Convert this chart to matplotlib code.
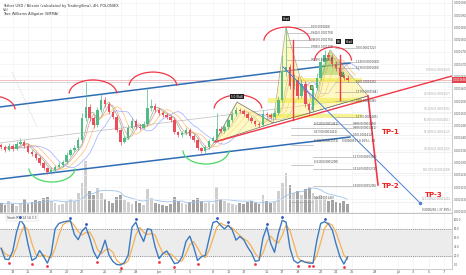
import matplotlib
matplotlib.use("Agg")
import matplotlib.pyplot as plt
from matplotlib.patches import Arc, Polygon
from matplotlib.ticker import FuncFormatter
import numpy as np
import pandas as pd

# Tether USD / Bitcoin, 12h bars, price in units of 1e-7 BTC
first_day = -0.5      # day 0 = May 12
bar_days = 0.5
first_open = 1370
closes = [1363, 1351, 1368, 1355, 1376, 1384, 1368, 1343, 1335, 1319,
          1298, 1278, 1262, 1270, 1282, 1290, 1302, 1331, 1351, 1359,
          1392, 1481, 1526, 1481, 1453, 1514, 1554, 1538, 1506, 1485,
          1433, 1384, 1400, 1441, 1469, 1445, 1441, 1457, 1522, 1530,
          1514, 1502, 1494, 1485, 1473, 1424, 1412, 1420, 1433, 1408,
          1392, 1359, 1347, 1363, 1388, 1400, 1437, 1429, 1445, 1473,
          1498, 1514, 1510, 1498, 1481, 1469, 1457, 1453, 1498, 1494,
          1485, 1502, 1554, 1668, 1689, 1611, 1636, 1571, 1620, 1538,
          1514, 1603, 1644, 1709, 1737, 1729, 1701, 1685, 1652, 1644,
          1636]
highs = [1378, 1370, 1380, 1374, 1388, 1398, 1392, 1375, 1352, 1342,
         1326, 1305, 1284, 1281, 1292, 1301, 1312, 1342, 1360, 1372,
         1405, 1500, 1628, 1540, 1490, 1525, 1579, 1566, 1545, 1515,
         1492, 1440, 1410, 1452, 1480, 1478, 1456, 1470, 1603, 1560,
         1542, 1522, 1510, 1503, 1492, 1480, 1430, 1428, 1446, 1440,
         1415, 1398, 1365, 1370, 1396, 1410, 1502, 1448, 1455, 1482,
         1510, 1528, 1522, 1518, 1505, 1488, 1475, 1466, 1512, 1507,
         1502, 1515, 1570, 1737, 1851, 1700, 1660, 1650, 1640, 1630,
         1548, 1615, 1665, 1730, 1758, 1750, 1740, 1712, 1695, 1662,
         1655]
lows = [1355, 1343, 1346, 1348, 1350, 1370, 1360, 1338, 1328, 1312,
        1290, 1270, 1252, 1254, 1262, 1276, 1284, 1296, 1325, 1345,
        1352, 1385, 1470, 1470, 1440, 1446, 1505, 1528, 1498, 1476,
        1425, 1372, 1378, 1395, 1435, 1438, 1432, 1436, 1450, 1510,
        1505, 1495, 1486, 1478, 1465, 1415, 1402, 1405, 1414, 1400,
        1384, 1350, 1338, 1340, 1356, 1382, 1392, 1420, 1422, 1438,
        1465, 1490, 1500, 1490, 1472, 1460, 1450, 1445, 1447, 1486,
        1476, 1478, 1495, 1545, 1650, 1598, 1600, 1560, 1562, 1525,
        1498, 1505, 1596, 1635, 1700, 1718, 1690, 1672, 1640, 1635,
        1628]
volumes = [10, 8, 12, 9, 7, 10, 14, 9, 11, 13,
           12, 15, 16, 12, 10, 8, 9, 11, 14, 12,
           20, 30, 52, 22, 18, 25, 20, 14, 12, 10,
           16, 18, 13, 11, 9, 12, 10, 8, 24, 15,
           10, 9, 8, 7, 9, 16, 12, 10, 9, 11,
           13, 15, 12, 10, 11, 9, 26, 14, 12, 10,
           9, 8, 10, 9, 11, 12, 10, 9, 18, 12,
           10, 11, 22, 30, 40, 28, 20, 22, 18, 24,
           26, 20, 16, 18, 14, 12, 13, 11, 10, 12,
           9]
stoch_k = [37, 13, 12, 30, 73, 100, 88, 45, 10, 15,
           32, 19, 4, 25, 80, 92, 95, 97, 98, 68,
           56, 75, 84, 60, 30, 14, 30, 55, 22, 8,
           1, 0, 5, 22, 84, 95, 70, 52, 80, 78,
           40, 14, 25, 31, 18, 3, 5, 18, 52, 64,
           40, 10, 18, 21, 58, 94, 97, 88, 80, 88,
           78, 55, 63, 56, 40, 27, 8, 10, 60, 84,
           48, 28, 70, 99, 95, 38, 10, 4, 10, 6,
           4, 4, 55, 92, 96, 91, 78, 46, 18, 2,
           18]

tick_days = [1, 3, 6, 8, 10, 13, 15, 17, 20, 22, 24, 27, 29, 31, 34, 36, 38,
             41, 43, 45, 48, 51, 53, 55, 57]
tick_labels = ["13", "15", "18", "20", "22", "25", "27", "29", "Jun", "3", "5",
               "8", "10", "12", "15", "17", "19", "22", "24", "26", "29", "Jul",
               "3", "5", "7"]
price_ticks = list(range(1100, 1951, 50))
stoch_ticks = [0, 20, 40, 60, 80, 100]

# drawings (day, price)
channel_upper = [(-0.65, 1526), (44.8, 1705)]
channel_lower = [(-0.65, 1233), (44.8, 1404)]
channel_mid = [(-0.65, 1380), (44.8, 1555)]
support_line = [(27.27, 1384), (58.05, 1652)]
dotted_line = [(0.91, 1668), (4.16, 1445)]
small_pattern = [(27.27, 1384), (30.13, 1546), (34.81, 1461)]
pt_x, pt_a, pt_b, pt_c, pt_d = (34.81, 1461), (36.49, 1851), (39.61, 1502), (42.21, 1758), (47.14, 1571)
green_zone = [(40.65, 1656), (42.21, 1758), (44.16, 1656)]
red_legs = [(37.4, 1798, 1473), (43.5, 1737, 1554)]
yellow_bands = [(34.2, 46.4, 1542, 1563), (34.2, 46.4, 1481, 1497), (37.0, 46.4, 1628, 1644)]
tp_path = [(47.14, 1571), (48.44, 1209)]
tp3_path = [(36.1, 1689), (53.9, 1136)]
tp_labels = [("TP-1", 48.96, 1424), ("TP-2", 48.96, 1205), ("TP-3", 54.55, 1168)]
top_arcs = [(-1.69, 1571, 3.0), (11.43, 1636, 3.1), (19.22, 1668, 3.1),
            (30.26, 1575, 3.1), (36.62, 1851, 3.0), (42.6, 1770, 2.4)]
bottom_arcs = [(6.1, 1221, 3.0), (26.1, 1294, 3.0)]
fib_a = [(1851, "1.0(0.0001828)"), (1827, "0.942(0.0001791)"), (1798, "0.863(0.0001756)"),
         (1770, "0.786(0.0001725)"), (1717, "0.618(0.0001657)")]
fib_b = [(1766, "0.0(0.0001722)"), (1709, "1.146(0.0001680)"), (1685, "1.236(0.0001650)"),
         (1628, "1.0(0.0001626)"), (1587, "1.27(0.0001584)"), (1550, "1.0(0.0001548)"),
         (1485, "1.27(0.0001485)")]
fib_c = [(1457, "0.886(0.0001456)"), (1441, "0.886(0.0001441)"), (1412, "1.0(0.0001412)"),
         (1323, "1.272(0.0001323)"), (1274, "1.414(0.0001274)"), (1205, "1.618(0.0001205)")]
fib_d = [(1441, "-0.618(0.0001441)"), (1412, "0.273(0.0001412)"), (1372, "-0.382(0.0001372)"),
         (1290, "-0.618(0.0001290)"), (1140, "1.0(0.0001140)")]
fib_pct = [(1664, "0.00%(0.0001664)"), (1567, "23.60%(0.0001567)"), (1506, "38.20%(0.0001506)"),
           (1461, "50.00%(0.0001461)"), (1412, "61.80%(0.0001412)"), (1343, "78.60%(0.0001343)"),
           (1258, "100.00%(0.0001258)"), (1140, "127.20%(0.0001140)")]

n = len(closes)
days = first_day + bar_days * np.arange(n)
c = np.array(closes)
o = np.r_[first_open, c[:-1]]
up = c >= o

fig = plt.figure(figsize=(4.66, 2.75), dpi=100)
rect_main = [0, 62 / 275, 452 / 466, 213 / 275]
ax_v = fig.add_axes(rect_main)
ax = fig.add_axes(rect_main, sharex=ax_v)
ax2 = fig.add_axes([0, 6 / 275, 452 / 466, 55 / 275], sharex=ax_v)
ax.patch.set_visible(False)

xlim = (-0.65, 58.05)
ax_v.set_xlim(*xlim)
ax_v.set_ylim(0, 213)
ax_v.axis("off")
ax.set_ylim(1095, 1961)

# grid
for t in tick_days:
    ax_v.axvline(t, color="#eef0f4", lw=0.4, zorder=0)
    ax2.axvline(t, color="#eef0f4", lw=0.4, zorder=0)
for p in price_ticks:
    ax.axhline(p, color="#eef0f4", lw=0.4, zorder=0)

# volume
vcol = np.where(up, "#cfcfcf", "#a3a3a3")
ax_v.bar(days, volumes, width=0.36, color=vcol, zorder=1)
vma = pd.Series(volumes).rolling(10, min_periods=1).mean()
ax_v.plot(days, vma, color="#9cc3ea", lw=0.6, zorder=2)

# alligator style moving averages
s = pd.Series(closes)
for win, shift, col in [(2, 1, "#66bb6a"), (3, 1, "#ef7a8a"), (4, 2, "#ffb74d"), (6, 3, "#8c9eff")]:
    ma = s.rolling(win, min_periods=1).mean()
    ax.plot(days + shift * bar_days, ma, color=col, lw=0.5, alpha=0.85, zorder=2)

# channel
for line, col, lw in [(channel_upper, "#2f6db5", 1.1), (channel_lower, "#2f6db5", 1.1),
                      (channel_mid, "#bdbdbd", 0.5)]:
    xs, ys = zip(*line)
    ax.plot(xs, ys, color=col, lw=lw, zorder=3)
xs, ys = zip(*dotted_line)
ax.plot(xs, ys, color="#bbbbbb", lw=0.5, ls=":", zorder=3)

# light horizontals across
ax.axhline(closes[-1], color="#f4a3a8", lw=0.5, zorder=2)
ax.axhline(1628, color="#c8c8c8", lw=0.5, zorder=2)

# pattern fills
ax.add_patch(Polygon(small_pattern, closed=True, facecolor="#fff59d", alpha=0.6,
                     edgecolor="#333333", lw=0.6, zorder=3))
ax.add_patch(Polygon([pt_x, pt_a, pt_b], closed=True, facecolor="#fff176", alpha=0.45,
                     edgecolor="#444444", lw=0.5, zorder=3))
ax.add_patch(Polygon([pt_b, pt_c, pt_d], closed=True, facecolor="#fff176", alpha=0.45,
                     edgecolor="#444444", lw=0.5, zorder=3))
ax.add_patch(Polygon(green_zone, closed=True, facecolor="#8bc34a", alpha=0.45, lw=0, zorder=3))
for x0, x1, p0, p1 in yellow_bands:
    ax.fill_between([x0, x1], p0, p1, color="#eeea3a", alpha=0.55, lw=0, zorder=3)
ax.plot([pt_x[0], pt_b[0], pt_d[0]], [pt_x[1], pt_b[1], pt_d[1]], color="#555555", lw=0.4, zorder=3)

# fib levels
fs_fib = 2.0
for p, lab in fib_a:
    ax.plot([36.6, 39.6], [p, p], color="#9e9e9e", lw=0.4, zorder=3)
    ax.text(39.7, p, lab, fontsize=1.9, color="#444444", va="center", zorder=6)
for p, lab in fib_b:
    ax.plot([42.9, 45.5], [p, p], color="#9e9e9e", lw=0.4, zorder=3)
    ax.text(45.6, p, lab, fontsize=fs_fib, color="#444444", va="center", zorder=6)
for p, lab in fib_c:
    ax.plot([40.0, 45.1], [p, p], color="#9e9e9e", lw=0.4, zorder=3)
    ax.text(45.2, p, lab, fontsize=fs_fib, color="#444444", va="center", zorder=6)
for p, lab in fib_d:
    ax.plot([37.2, 40.0], [p, p], color="#9e9e9e", lw=0.4, zorder=3)
    ax.text(40.1, p + 6, lab, fontsize=fs_fib, color="#444444", va="bottom", zorder=6)
for p, lab in fib_pct:
    ax.plot([45.0, 58.05], [p, p], color="#e6e6e6", lw=0.4, zorder=1)
    ax.text(57.9, p + 4, lab, fontsize=fs_fib, color="#aaaaaa", ha="right", va="bottom", zorder=6)

# candles
ax.vlines(days, lows, highs, color=np.where(up, "#53b987", "#eb4d5c"), lw=0.5, zorder=4)
body_lo = np.minimum(o, c)
body_h = np.maximum(np.abs(c - o), 3)
ax.bar(days, body_h, bottom=body_lo, width=0.32, color=np.where(up, "#53b987", "#eb4d5c"),
       lw=0, zorder=4)

# arcs
for cx, top, hw in top_arcs:
    ax.add_patch(Arc((cx, top - 57), 2 * hw, 114, theta1=30, theta2=150,
                     color="#f23645", lw=0.9, zorder=5))
for cx, bot, hw in bottom_arcs:
    ax.add_patch(Arc((cx, bot + 57), 2 * hw, 114, theta1=210, theta2=330,
                     color="#4cd964", lw=0.9, zorder=5))

# trend lines and targets
xs, ys = zip(*support_line)
ax.plot(xs, ys, color="#f23645", lw=1.0, zorder=5)
for xd, p0, p1 in red_legs:
    ax.plot([xd, xd], [p0, p1], color="#f23645", lw=1.0, zorder=5)
xs, ys = zip(*tp_path)
ax.plot(xs, ys, color="#f23645", lw=1.2, zorder=5)
xs, ys = zip(*tp3_path)
ax.plot(xs, ys, color="#4a7fd4", lw=0.7, zorder=5)
ax.plot(xs[-1], ys[-1], marker="o", ms=1.5, color="#4a7fd4", zorder=5)
for lab, xd, p in tp_labels:
    ax.text(xd, p, lab, color="#f0201e", fontsize=5, fontweight="bold", va="center", zorder=7)

# pattern labels
for lab, xd, p in [("Head", 36.49, 1885), ("HS", 43.3, 1792), ("Head", 44.7, 1792),
                   ("5-0 (Bull)", 30.13, 1568)]:
    ax.text(xd, p, lab, fontsize=1.9, color="white", ha="center", va="center", zorder=7,
            bbox=dict(boxstyle="square,pad=0.2", fc="#222222", ec="none"))
for lab, xd, p in [("C", 43.8, 1660), ("B", 39.8, 1605)]:
    ax.text(xd, p, lab, fontsize=1.9, color="white", ha="center", va="center", zorder=7,
            bbox=dict(boxstyle="square,pad=0.2", fc="#5a8a3a", ec="none"))
ax.text(43.7, 1384, "0.0000091 (-6.56%), -93", fontsize=fs_fib, color="#444444", zorder=7)
ax.text(57.9, 1103, "0.0000256 (-37.39%)", fontsize=fs_fib, color="#444444", ha="right", zorder=7)

# axes styling main
ax.yaxis.tick_right()
ax.set_yticks(price_ticks)
ax.yaxis.set_major_formatter(FuncFormatter(lambda v, _: f"{v * 1e-7:.7f}"))
ax.tick_params(axis="y", labelsize=1.9, length=0, pad=1.0, colors="#555555")
ax.tick_params(axis="x", bottom=False, labelbottom=False)
for sp in ["top", "left"]:
    ax.spines[sp].set_visible(False)
ax.spines["right"].set_color("#b8b8b8")
ax.spines["right"].set_linewidth(0.5)
ax.spines["bottom"].set_color("#b8b8b8")
ax.spines["bottom"].set_linewidth(0.6)
ax.text(1.002, closes[-1], f"{closes[-1] * 1e-7:.7f}", transform=ax.get_yaxis_transform(),
        fontsize=1.9, color="white", va="center", ha="left", zorder=8,
        bbox=dict(boxstyle="square,pad=0.3", fc="#e0454f", ec="none"))

# title legend
fig.text(0.006, 0.986, "Tether USD / Bitcoin (calculated by TradingView), 4H, POLONIEX",
         fontsize=2.6, color="#333333", va="top")
fig.text(0.006, 0.972, "Vol", fontsize=2.6, color="#333333", va="top")
fig.text(0.006, 0.958, "True Williams Alligator (SMMA)", fontsize=2.6, color="#333333", va="top")

# stoch rsi
k = pd.Series(stoch_k, dtype=float)
d = k.rolling(3, min_periods=1).mean()
ax2.set_ylim(-9, 113)
ax2.axhspan(20, 80, color="#ececec", zorder=0)
ax2.axhline(80, color="#777777", lw=0.5, ls=(0, (1.5, 1.5)), zorder=1)
ax2.axhline(20, color="#777777", lw=0.5, ls=(0, (1.5, 1.5)), zorder=1)
ax2.plot(days, d, color="#f7b055", lw=0.9, zorder=2)
ax2.plot(days, k, color="#3d7ac0", lw=1.0, zorder=3)
for i in range(1, n - 1):
    if stoch_k[i] >= stoch_k[i - 1] and stoch_k[i] >= stoch_k[i + 1] and stoch_k[i] > 80:
        ax2.plot(days[i], stoch_k[i] + 7, "o", ms=1.0, color="#2a52be", zorder=4)
    if stoch_k[i] <= stoch_k[i - 1] and stoch_k[i] <= stoch_k[i + 1] and stoch_k[i] < 20:
        ax2.plot(days[i], stoch_k[i] - 7, "o", ms=1.0, color="#f23645", zorder=4)
ax2.text(0.3, 108, "Stoch RSI 14 14 3 3", fontsize=2.2, color="#333333", va="top",
         bbox=dict(boxstyle="square,pad=0.3", fc="white", ec="#cccccc", lw=0.3))
ax2.yaxis.tick_right()
ax2.set_yticks(stoch_ticks)
ax2.set_yticklabels([f"{v:.1f}" for v in stoch_ticks])
ax2.set_xticks(tick_days)
ax2.set_xticklabels(tick_labels)
ax2.tick_params(axis="y", labelsize=1.9, length=0, pad=1.0, colors="#555555")
ax2.tick_params(axis="x", labelsize=2.4, length=0, pad=1.0, colors="#555555")
for sp in ["top", "left"]:
    ax2.spines[sp].set_visible(False)
for sp in ["right", "bottom"]:
    ax2.spines[sp].set_color("#b8b8b8")
    ax2.spines[sp].set_linewidth(0.5)
ax2.set_xlim(*xlim)

fig.savefig("out.png", dpi=100, facecolor="white")
